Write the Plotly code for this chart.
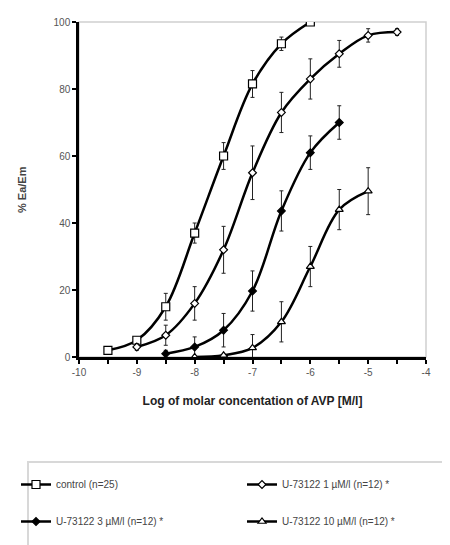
import plotly.graph_objects as go

x_ctrl = [-9.5, -9, -8.5, -8, -7.5, -7, -6.5, -6]
y_ctrl = [2, 5, 15, 37, 60, 81.5, 93.5, 100]
e_ctrl = [0, 1, 4, 3, 4, 4, 2, 0]

x_u1 = [-9, -8.5, -8, -7.5, -7, -6.5, -6, -5.5, -5, -4.5]
y_u1 = [3, 6.5, 16, 32, 55, 73, 83, 90.5, 96, 97]
e_u1 = [1, 3, 5, 7, 8, 6, 6, 4, 2, 1]

x_u3 = [-8.5, -8, -7.5, -7, -6.5, -6, -5.5]
y_u3 = [1, 3, 8, 19.7, 43.6, 61, 70]
e_u3 = [1, 3, 5, 6, 6, 5, 5]

x_u10 = [-8, -7.5, -7, -6.5, -6, -5.5, -5]
y_u10 = [0, 0.5, 2.7, 10.5, 27, 44, 49.5]
e_u10 = [0, 0, 4, 6, 6, 6, 7]

names = ["control (n=25)", "U-73122 1 µM/l (n=12) *",
         "U-73122 3 µM/l (n=12) *", "U-73122 10 µM/l (n=12) *"]

font_family = "Liberation Sans, Arial, sans-serif"

# page offset of the figure inside the browser window (body margin)
OFF = 8

fig = go.Figure()

series = [
    (x_ctrl, y_ctrl, e_ctrl, names[0], "square", "white", 8, "legend"),
    (x_u1, y_u1, e_u1, names[1], "diamond", "white", 6, "legend2"),
    (x_u3, y_u3, e_u3, names[2], "diamond", "black", 6, "legend"),
    (x_u10, y_u10, e_u10, names[3], "triangle-up", "white", 7, "legend2"),
]

for i, (xs, ys, es, nm, sym, fill, sz, lg) in enumerate(series):
    fig.add_trace(go.Scatter(
        x=xs, y=ys, name=nm, mode="lines+markers", legend=lg,
        legendgroup="g%d" % i,
        line=dict(color="black", width=2.5, shape="spline", smoothing=1.0),
        marker=dict(symbol=sym, size=sz, color=fill,
                    line=dict(color="black", width=1.2)),
        error_y=dict(type="data", array=es, visible=True,
                     color="#222", thickness=1, width=2),
    ))

# plot area in screen pixels
PL, PR, PT, PB = 79, 426, 22, 357
PW, PH = PR - PL, PB - PT

# light gray frame for top/right
fig.add_shape(type="rect", xref="paper", yref="paper", x0=0, y0=0, x1=1, y1=1,
              line=dict(color="#cfcfcf", width=1.5), layer="below")
# legend box (extends past right edge as in reference)
fig.add_shape(type="rect", xref="paper", yref="paper",
              x0=(28 - PL) / PW, x1=(560 - PL) / PW,
              y0=(PB - 580) / PH, y1=(PB - 462) / PH,
              line=dict(color="#d8d8d8", width=2), layer="below")

fig.add_annotation(text="<b>% Ea/Em</b>", xref="paper", yref="paper",
                   x=(22 - PL) / PW, y=(PB - 190) / PH, textangle=-90,
                   xanchor="center", yanchor="middle",
                   showarrow=False, font=dict(size=11, color="#444"))

leg_common = dict(
    orientation="v", xref="container", yref="container", yanchor="top",
    bgcolor="rgba(0,0,0,0)", borderwidth=0,
    font=dict(size=10, color="#444", family=font_family),
    traceorder="grouped", tracegroupgap=18, itemwidth=30,
)

fig.update_layout(
    width=450, height=545,
    margin=dict(l=PL - OFF, r=450 - (PR - OFF), t=PT - OFF, b=545 - (PB - OFF),
                autoexpand=False),
    paper_bgcolor="white", plot_bgcolor="white",
    font=dict(family=font_family, color="#333"),
    showlegend=True,
    legend=dict(x=8 / 450, xanchor="left", y=1 - 462 / 545, **leg_common),
    legend2=dict(x=234 / 450, xanchor="left", y=1 - 462 / 545, **leg_common),
)

fig.update_xaxes(
    range=[-10, -4], tickmode="array", tickvals=[-10, -9, -8, -7, -6, -5, -4],
    ticktext=["-10", "-9", "-8", "-7", "-6", "-5", "-4"],
    showgrid=False, zeroline=False, showline=True, linecolor="black", linewidth=2.5,
    ticks="outside", ticklen=4, tickcolor="black", tickwidth=2,
    minor=dict(dtick=0.5, ticks="outside", ticklen=4, tickcolor="black", tickwidth=2),
    tickfont=dict(size=10, color="#555"),
    title=dict(text="<b>Log of molar concentation of AVP [M/l]</b>",
               font=dict(size=12, color="#222"), standoff=20),
)
fig.update_yaxes(
    range=[0, 100], tickmode="array", tickvals=[0, 20, 40, 60, 80, 100],
    showgrid=False, zeroline=False, showline=True, linecolor="black", linewidth=2.5,
    ticks="outside", ticklen=4, tickcolor="black", tickwidth=2,
    tickfont=dict(size=10, color="#555"),
)

fig.write_html("out.html")
